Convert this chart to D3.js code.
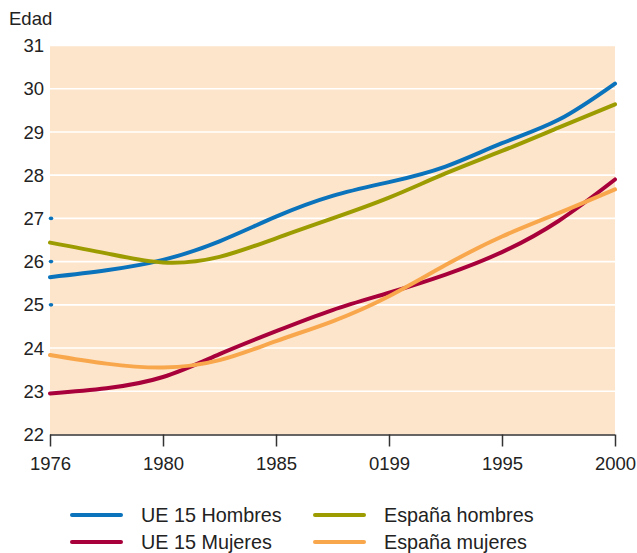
<!DOCTYPE html>
<html>
<head>
<meta charset="utf-8">
<script src="https://cdn.jsdelivr.net/npm/d3@7/dist/d3.min.js"></script>
<style>
  html, body { margin: 0; padding: 0; background: #fff; }
  svg { display: block; }
  text { font-family: "Liberation Sans", Arial, sans-serif; fill: #222; }
</style>
</head>
<body>
<svg id="chart" width="637" height="553"></svg>
<script>
// Category labels along the bottom axis (evenly spaced)
const tickLabels = ["1976", "1980", "1985", "0199", "1995", "2000"];
// Sample positions in category units (0 = first label, 5 = last)
const steps = [0, 0.5, 1, 1.5, 2, 2.5, 3, 3.5, 4, 4.5, 5];

// Average age (years) for each series at those positions
const ueHombres     = [25.64, 25.80, 26.04, 26.47, 27.04, 27.52, 27.84, 28.20, 28.74, 29.28, 30.12];
const espanaHombres = [26.44, 26.19, 25.98, 26.11, 26.54, 27.00, 27.48, 28.04, 28.56, 29.10, 29.64];
const ueMujeres     = [22.95, 23.07, 23.33, 23.86, 24.39, 24.88, 25.28, 25.70, 26.22, 26.94, 27.90];
const espanaMujeres = [23.84, 23.64, 23.55, 23.72, 24.16, 24.62, 25.20, 25.92, 26.58, 27.12, 27.67];

const yTicks = [22, 23, 24, 25, 26, 27, 28, 29, 30, 31];
const markedTicks = [25, 26, 27];

const series = [
  { name: "UE 15 Hombres",   values: ueHombres,     color: "#0a73bb" },
  { name: "España hombres",  values: espanaHombres, color: "#9c9c00" },
  { name: "UE 15 Mujeres",   values: ueMujeres,     color: "#a8003a" },
  { name: "España mujeres",  values: espanaMujeres, color: "#f9a74c" }
];

const svg = d3.select("#chart");
const plotLeft = 50, plotRight = 615, plotTop = 45.5, plotBottom = 434.5;

const x = d3.scaleLinear().domain([0, tickLabels.length - 1]).range([plotLeft, plotRight]);
const y = d3.scaleLinear().domain([22, 31]).range([plotBottom, plotTop]);

// plot background
svg.append("rect")
  .attr("x", plotLeft).attr("y", plotTop)
  .attr("width", plotRight - plotLeft).attr("height", plotBottom - plotTop)
  .attr("fill", "#fde5cb");

// horizontal white grid
svg.append("g").selectAll("line")
  .data(yTicks.filter(v => v > 22))
  .join("line")
  .attr("x1", plotLeft).attr("x2", plotRight)
  .attr("y1", d => y(d)).attr("y2", d => y(d))
  .attr("stroke", "#fff").attr("stroke-width", 1.6);

// y tick labels
svg.append("g").selectAll("text")
  .data(yTicks)
  .join("text")
  .attr("x", 44).attr("y", d => y(d))
  .attr("dy", "0.36em")
  .attr("text-anchor", "end")
  .attr("font-size", 18.5)
  .text(d => d);

// small marks on the left edge
svg.append("g").selectAll("ellipse")
  .data(markedTicks)
  .join("ellipse")
  .attr("cx", plotLeft + 1).attr("cy", d => y(d))
  .attr("rx", 2.3).attr("ry", 1.8)
  .attr("fill", "#0a73bb");

svg.append("text")
  .attr("x", 9).attr("y", 25)
  .attr("font-size", 18.5)
  .text("Edad");

// bottom axis
const xAxis = d3.axisBottom(x)
  .tickValues(d3.range(tickLabels.length))
  .tickFormat(i => tickLabels[i])
  .tickSize(12)
  .tickPadding(10);

const gx = svg.append("g")
  .attr("transform", `translate(0,${plotBottom})`)
  .call(xAxis);
gx.select(".domain").attr("stroke", "#333").attr("stroke-width", 1.5).attr("d", `M${plotLeft},0.5H${plotRight}`);
gx.selectAll(".tick line").attr("stroke", "#333").attr("stroke-width", 1.5);
gx.selectAll(".tick text")
  .attr("font-size", 18.5)
  .attr("font-family", "'Liberation Sans', Arial, sans-serif")
  .attr("fill", "#222");

// series lines
const line = d3.line()
  .x((d, i) => x(steps[i]))
  .y(d => y(d))
  .curve(d3.curveNatural);

svg.append("g").selectAll("path")
  .data(series)
  .join("path")
  .attr("d", d => line(d.values))
  .attr("fill", "none")
  .attr("stroke", d => d.color)
  .attr("stroke-width", 4)
  .attr("stroke-linecap", "round");

// legend
const legendPos = [
  { s: series[0], lx: 72,  ly: 515 },
  { s: series[2], lx: 72,  ly: 542 },
  { s: series[1], lx: 315, ly: 515 },
  { s: series[3], lx: 315, ly: 542 }
];
const lg = svg.append("g").selectAll("g").data(legendPos).join("g");
lg.append("line")
  .attr("x1", d => d.lx).attr("x2", d => d.lx + 49)
  .attr("y1", d => d.ly).attr("y2", d => d.ly)
  .attr("stroke", d => d.s.color)
  .attr("stroke-width", 4)
  .attr("stroke-linecap", "round");
lg.append("text")
  .attr("x", d => d.lx + 69).attr("y", d => d.ly)
  .attr("dy", "0.36em")
  .attr("font-size", 19.8)
  .text(d => d.s.name);
</script>
</body>
</html>
